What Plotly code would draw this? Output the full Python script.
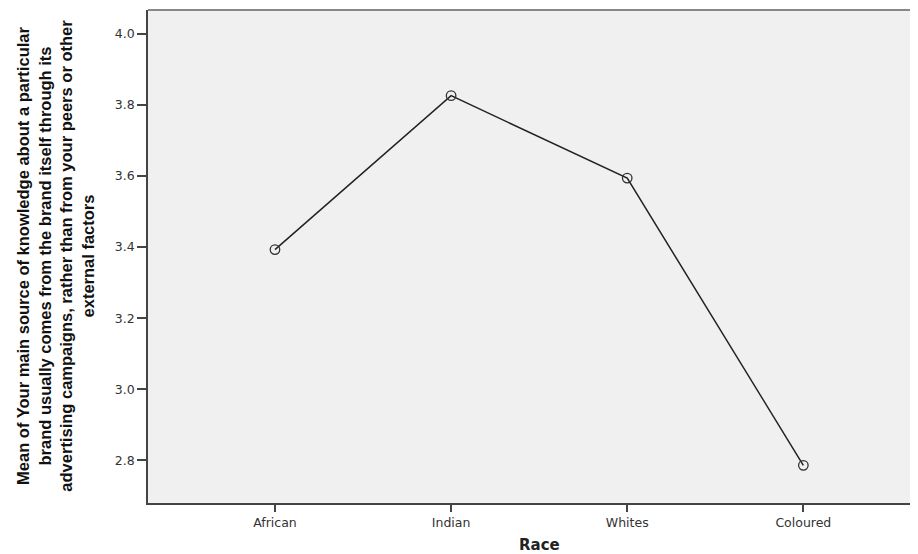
import plotly.graph_objects as go

categories = ["African", "Indian", "Whites", "Coloured"]
means = [3.393, 3.826, 3.594, 2.786]
y_ticks = [2.8, 3.0, 3.2, 3.4, 3.6, 3.8, 4.0]
y_title = ("Mean of Your main source of knowledge about a particular<br>"
           "brand usually comes from the brand itself through its<br>"
           "advertising campaigns, rather than from your peers or other<br>"
           "external factors")
x_title = "Race"

# page body adds an 8px offset; figure is sized to end at the window edge
W, H = 910, 546
L, R, T, B = 140, 0, 2, 51.3
PW, PH = W - L - R, H - T - B

fig = go.Figure()
fig.add_trace(go.Scatter(
    x=list(range(len(categories))), y=means, mode="lines+markers",
    line=dict(color="#222222", width=1.5),
    marker=dict(symbol="circle-open", size=9.5, color="#333333", line=dict(width=1.3)),
    showlegend=False,
))

tick_font = dict(family="DejaVu Sans, Verdana, sans-serif", size=12.5, color="#333333")

fig.update_layout(
    width=W, height=H,
    margin=dict(l=L, r=R, t=T, b=B, autoexpand=False),
    paper_bgcolor="white", plot_bgcolor="#F0F0F0",
    font=dict(family="Liberation Sans, Arial, sans-serif", size=11, color="#333333"),
    xaxis=dict(
        tickmode="array", tickvals=list(range(len(categories))), ticktext=categories,
        range=[-0.721, 3.651], showgrid=False, zeroline=False,
        showline=True, linecolor="#444444", linewidth=1.5,
        ticks="outside", ticklen=7, tickwidth=1.5, tickcolor="#444444",
        tickfont=tick_font,
    ),
    yaxis=dict(
        tickmode="array", tickvals=y_ticks, ticktext=[f"{v:.1f}" for v in y_ticks],
        range=[2.68, 4.067], showgrid=False, zeroline=False,
        showline=True, linecolor="#444444", linewidth=1.5,
        ticks="outside", ticklen=9, tickwidth=1.5, tickcolor="#444444",
        tickfont=tick_font,
    ),
    shapes=[dict(type="line", xref="paper", yref="paper", x0=0, x1=1, y0=1, y1=1,
                 line=dict(color="#888888", width=2))],
    annotations=[
        dict(
            text="<b>" + y_title + "</b>", textangle=-90,
            xref="paper", yref="paper", x=(47 - L) / PW, y=(H - B - 247.5) / PH,
            xanchor="center", yanchor="middle", showarrow=False, align="center",
            font=dict(family="Liberation Sans, Arial, sans-serif", size=16.5, color="#111111"),
        ),
        dict(
            text="<b>" + x_title + "</b>",
            xref="paper", yref="paper", x=(531 - L) / PW, y=(H - B - 537) / PH,
            xanchor="center", yanchor="middle", showarrow=False,
            font=dict(family="DejaVu Sans, Verdana, sans-serif", size=15, color="#222222"),
        ),
    ],
)

fig.write_html("out.html")
